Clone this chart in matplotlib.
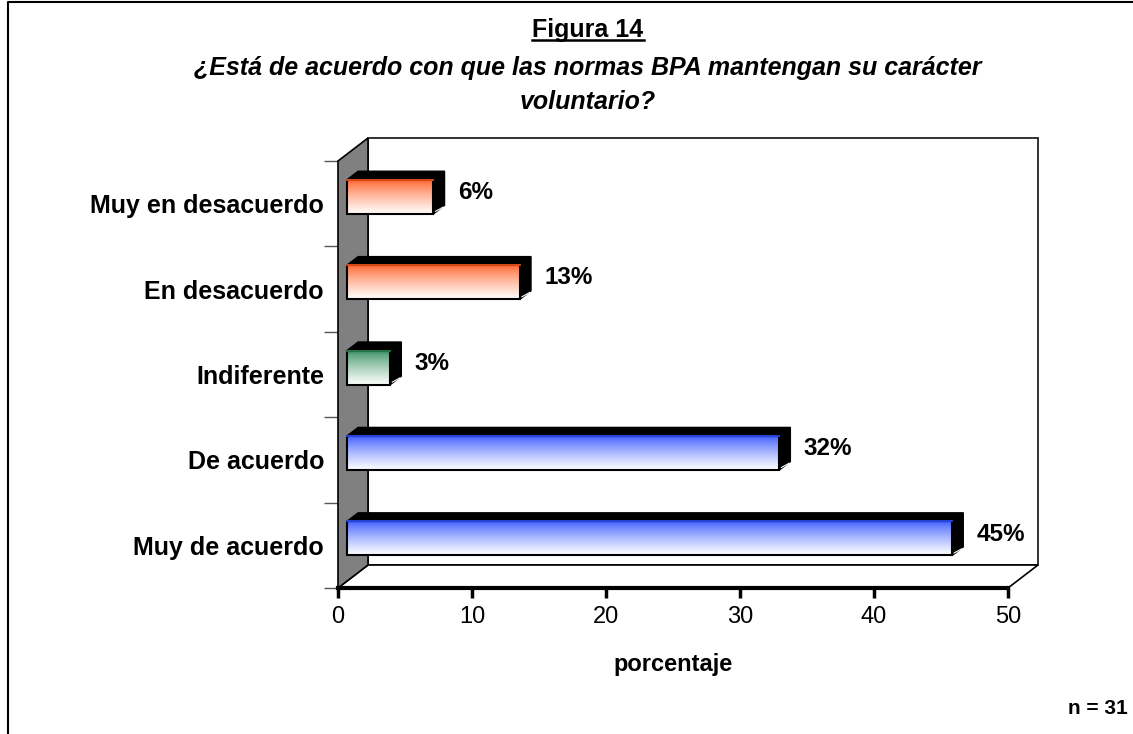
import numpy as np
import matplotlib
matplotlib.use("Agg")
import matplotlib.pyplot as plt
from matplotlib.patches import Polygon, Rectangle
from matplotlib.colors import to_rgb
from matplotlib.lines import Line2D

# datos (n = 31 encuestados)
categorias = ["Muy de acuerdo", "De acuerdo", "Indiferente", "En desacuerdo", "Muy en desacuerdo"]
respuestas = [14, 10, 1, 4, 2]
colores = ["#2f50ff", "#2f50ff", "#2e8b5a", "#ff5a1e", "#ff5a1e"]
n_total = 31
porcentajes = [100.0 * r / n_total for r in respuestas]

plt.rcParams['font.family'] = ['Liberation Sans', 'DejaVu Sans']

fig = plt.figure(figsize=(11.33, 7.34), dpi=100)
W, H = 1133, 734
# plano frontal del grafico 3D (en pixeles)
ax = fig.add_axes([338 / W, (H - 588) / H, 670 / W, 427 / H])
ax.set_xlim(0, 50)
ax.set_ylim(-0.5, 4.5)

# profundidad 3D en unidades de datos
dx, dy = 30 / 13.4, 23 / 85.4
f0, f1 = 0.30, 0.67   # posicion de las barras en la profundidad
alto = 0.40

# pared del fondo, suelo y pared izquierda gris
ax.add_patch(Polygon([(dx, -0.5 + dy), (50 + dx, -0.5 + dy), (50 + dx, 4.5 + dy), (dx, 4.5 + dy)],
                     closed=True, fc="white", ec="#222222", lw=1.3, clip_on=False, zorder=1))
ax.add_patch(Polygon([(0, -0.5), (50, -0.5), (50 + dx, -0.5 + dy), (dx, -0.5 + dy)],
                     closed=True, fc="white", ec="black", lw=1.2, clip_on=False, zorder=2))
ax.add_patch(Polygon([(0, -0.5), (dx, -0.5 + dy), (dx, 4.5 + dy), (0, 4.5)],
                     closed=True, fc="#808080", ec="black", lw=1.2, clip_on=False, zorder=2))

grad = np.linspace(0, 1, 100)[:, None] ** 0.75
for i, (v, c) in enumerate(zip(porcentajes, colores)):
    x0 = f0 * dx
    x1 = x0 + v
    yc = i + f0 * dy
    yb, yt = yc - alto / 2, yc + alto / 2
    bdx, bdy = (f1 - f0) * dx, (f1 - f0) * dy
    # cara frontal con degradado
    rgb = np.array(to_rgb(c))
    img = rgb[None, None, :] * (1 - grad[:, :, None]) + np.ones(3)[None, None, :] * grad[:, :, None]
    ax.imshow(img, extent=[x0, x1, yb, yt], aspect="auto", origin="upper", zorder=4,
              interpolation="bilinear")
    ax.add_patch(Rectangle((x0, yb), v, alto, fill=False, ec="black", lw=1.5, zorder=5))
    ax.plot([x0, x1], [yt, yt], color=c, lw=1.2, zorder=6)
    # cara superior y lateral
    ax.add_patch(Polygon([(x0, yt), (x1, yt), (x1 + bdx, yt + bdy), (x0 + bdx, yt + bdy)],
                         closed=True, fc="black", ec="black", lw=1, zorder=4))
    ax.add_patch(Polygon([(x1, yb), (x1, yt), (x1 + bdx, yt + bdy), (x1 + bdx, yb + bdy)],
                         closed=True, fc="black", ec="black", lw=1, zorder=4))
    ax.plot([x1 + 0.15, x1 + bdx - 0.1], [yb + 0.03, yb + bdy - 0.02], color="white", lw=0.8, zorder=6)
    ax.text(x1 + bdx + 1.0, yc + bdy / 2, f"{v:.0f}%", fontsize=17.5, fontweight="bold",
            va="center", ha="left", zorder=7)

for s in ["top", "right", "left"]:
    ax.spines[s].set_visible(False)
ax.spines["bottom"].set_linewidth(3)
ax.spines["bottom"].set_zorder(8)
ax.patch.set_alpha(0)

ax.set_xticks(range(0, 51, 10))
ax.tick_params(axis="x", direction="out", length=7, width=2.5, labelsize=17, pad=6)
ax.set_yticks(range(len(categorias)))
ax.set_yticklabels(categorias, fontsize=18, fontweight="bold")
ax.set_yticks(np.arange(-0.5, 4.6, 1), minor=True)
ax.tick_params(axis="y", which="major", length=0, pad=10)
ax.tick_params(axis="y", which="minor", length=10, width=1, color="#555555")
ax.set_xlabel("porcentaje", fontsize=17, fontweight="bold", labelpad=18)

# titulos
t1 = fig.text(588 / W, 1 - 30 / H, "Figura 14", fontsize=18, fontweight="bold", ha="center", va="center")
fig.text(588 / W, 1 - 68 / H, "¿Está de acuerdo con que las normas BPA mantengan su carácter",
         fontsize=18, fontweight="bold", style="italic", ha="center", va="center")
fig.text(588 / W, 1 - 102 / H, "voluntario?", fontsize=18, fontweight="bold", style="italic",
         ha="center", va="center")
fig.text(1128 / W, 1 - 708 / H, "n = 31", fontsize=15, fontweight="bold", ha="right", va="center")

# subrayado de "Figura 14" y marco del grafico
fig.canvas.draw()
bb = t1.get_window_extent().transformed(fig.transFigure.inverted())
fig.add_artist(Line2D([bb.x0, bb.x1], [bb.y0 + 0.003, bb.y0 + 0.003], color="black", lw=1.8))
fig.add_artist(Line2D([8 / W, 8 / W, 1], [0, 1 - 2 / H, 1 - 2 / H], color="black", lw=1.5))

fig.savefig("out.png", dpi=100)
